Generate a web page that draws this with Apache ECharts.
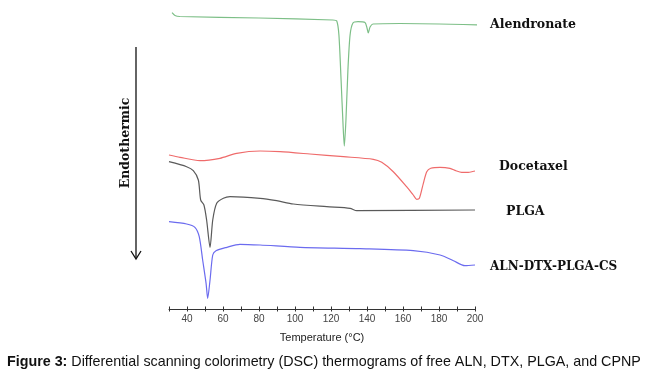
<!DOCTYPE html>
<html><head><meta charset="utf-8">
<script src="https://cdn.jsdelivr.net/npm/echarts@6/dist/echarts.min.js"></script>
<style>html,body{margin:0;padding:0;background:#fff}#c{width:652px;height:388px}</style>
</head><body><div id="c"></div>
<script>
// Temperature (°C) and heat-flow (arbitrary units, offset per trace)
const alendronateT = [31.7,33.3,36.1,80,121,123.2,124.4,125.6,126.7,127.4,128.3,129.4,130.6,132.2,135,138.9,140,140.7,141.7,143.3,158.3,203.3];
const alendronateV = [296.3,293.5,292.5,291,289,288,274,229,184,163,189,239,274,286,287.3,286.5,281,276,282,285,285.5,284];
const docetaxelT = [30,36.1,47.2,58.3,67.6,80.6,91.7,108.3,126.9,143.5,148.2,154.6,162,165.7,167.6,169.1,171.3,173.2,175.4,180.6,186.1,189.4,192.6,196.3,200];
const docetaxelV = [154,151.7,148.3,150.7,155.7,158,157.3,155,152.3,149.7,146.7,137.3,122.3,114,109.7,110.7,125.7,137.3,140.7,141.7,140.7,138.3,136.7,136.7,138];
const plgaT = [30,39.8,43.5,46.3,47.6,49.4,50.9,52.8,54.3,56.5,60.2,63.9,80.6,89.8,99.1,117.6,130.6,134.3,200];
const plgaV = [147.3,142.3,138.3,129,109,104,89,61.7,89,105.7,110.7,112.3,110.7,108.3,105,102.3,100.7,98.3,99];
const cpnpT = [30,39.8,44.4,46.8,48.7,50.6,51.5,52.8,54.3,56.1,62.1,69.4,80.6,102.8,136.1,165.7,180.6,188,194.4,200];
const cpnpV = [87.3,85,81.7,72.3,49,25.7,10.7,29,54,58.3,61.7,64.7,64,61.7,60.3,58.3,54,48.3,43.3,44];
const seriesNames = ['Alendronate','Docetaxel','PLGA','ALN-DTX-PLGA-CS'];
const xTicks = [40,60,80,100,120,140,160,180,200];

const zip = (a,b)=>a.map((x,i)=>[x,b[i]]);
const colors = ['#7dbf87','#ef6b6b','#5a5a5a','#6b6bef'];
const datasets = [zip(alendronateT,alendronateV),zip(docetaxelT,docetaxelV),zip(plgaT,plgaV),zip(cpnpT,cpnpV)];

const chart = echarts.init(document.getElementById('c'), null, {renderer:'canvas'});
const SERIF = '"DejaVu Serif", serif';
const lbl = (text, x, y, size) => ({type:'text', left:x, top:y, style:{text, font:'bold '+(size||12.5)+'px '+SERIF, fill:'#111'}});
const isMajor = v => xTicks.indexOf(v) >= 0;
chart.setOption({
  animation:false,
  backgroundColor:'#fff',
  grid:{left:169, right:177, top:0, bottom:79},
  xAxis:[{type:'value', min:30, max:200, interval:10,
    axisLine:{lineStyle:{color:'#333', width:1}},
    axisTick:{length:2.5, lineStyle:{color:'#333'}},
    splitLine:{show:false},
    axisLabel:{color:'#444', fontSize:10, fontFamily:'Liberation Sans, Arial', margin:5,
      formatter:v=> isMajor(v) ? String(v) : ''},
    name:'Temperature (°C)', nameLocation:'middle', nameGap:23,
    nameTextStyle:{color:'#222', fontSize:11, fontFamily:'Liberation Sans, Arial'}
  },{type:'value', min:30, max:200, interval:10, position:'bottom',
    axisLine:{show:false}, axisLabel:{show:false}, splitLine:{show:false},
    axisTick:{inside:true, length:2.5, lineStyle:{color:'#333'}, interval:(i,v)=>isMajor(Number(v))}
  }],
  yAxis:{type:'value', min:0, max:309, show:false},
  series: datasets.map((d,i)=>({type:'line', name:seriesNames[i], data:d, showSymbol:false, smooth:0.25, clip:false,
    lineStyle:{color:colors[i], width:1.2}})),
  graphic:[
    lbl('Alendronate',490,18),
    lbl('Docetaxel',499,160),
    lbl('PLGA',506,205),
    lbl('ALN-DTX-PLGA-CS',490,261,12),
    {type:'line', shape:{x1:136,y1:47,x2:136,y2:258}, style:{stroke:'#111', lineWidth:1.3}},
    {type:'polyline', shape:{points:[[131,251],[136,259],[141,251]]}, style:{stroke:'#111', lineWidth:1.3, fill:null}},
    {type:'text', x:126, y:143, rotation:Math.PI/2, style:{text:'Endothermic', font:'bold 12.5px '+SERIF, fill:'#111', textAlign:'center', textVerticalAlign:'middle'}},
    {type:'text', left:7, top:355, style:{rich:{b:{font:'bold 14.3px "Liberation Sans", Arial', fill:'#111'}, n:{font:'14.3px "Liberation Sans", Arial', fill:'#111'}},
      text:'{b|Figure 3:}{n| Differential scanning colorimetry (DSC) thermograms of free ALN, DTX, PLGA, and CPNP}'}}
  ]
});
</script></body></html>
